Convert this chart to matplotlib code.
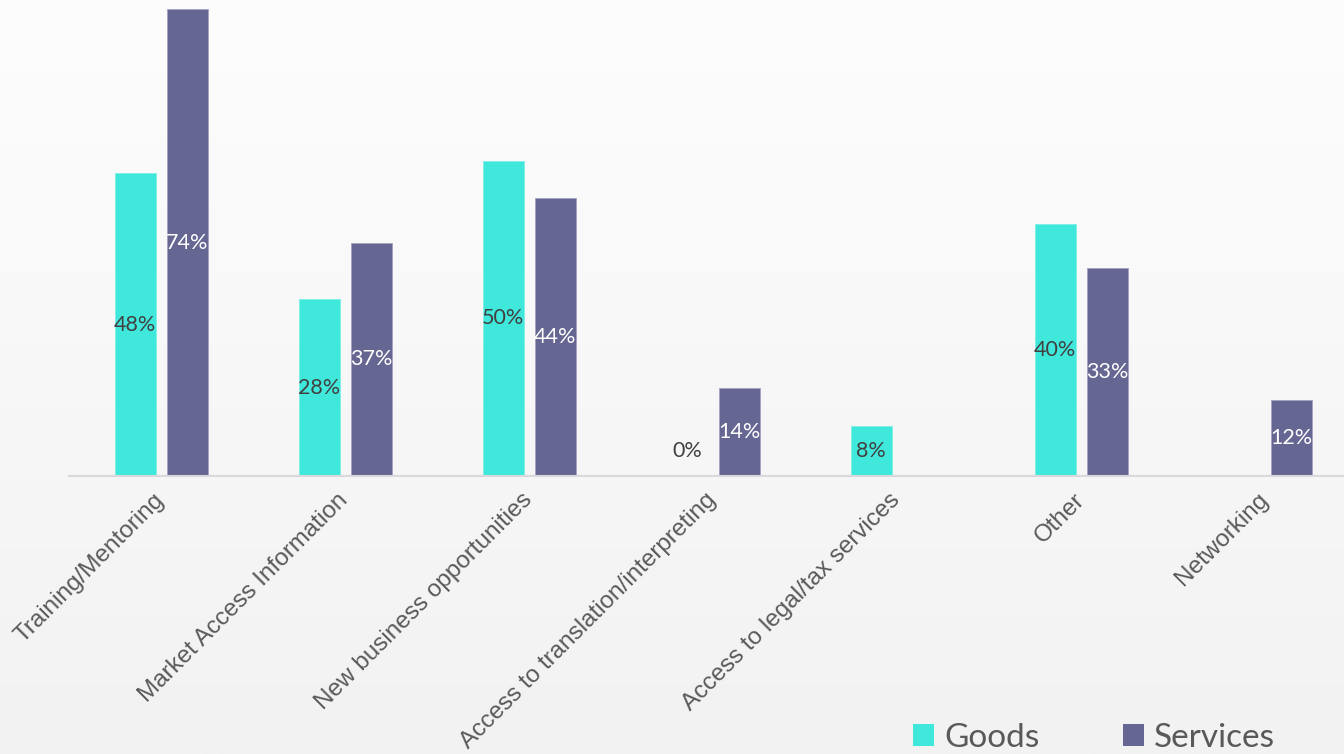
import numpy as np
import matplotlib.pyplot as plt
from matplotlib.patches import Patch

categories = [
    "Training/Mentoring",
    "Market Access Information",
    "New business opportunities",
    "Access to translation/interpreting",
    "Access to legal/tax services",
    "Other",
    "Networking",
]
goods = [48, 28, 50, 0, 8, 40, None]
services = [74, 37, 44, 14, None, 33, 12]

goods_color = "#40E8DC"
services_color = "#666693"

W, H = 1344, 754
fig = plt.figure(figsize=(W / 100, H / 100), dpi=100)

# soft vertical gradient behind everything
bg = fig.add_axes([0, 0, 1, 1], zorder=-10)
grad = np.linspace(253, 242, 256).reshape(-1, 1) / 255.0
bg.imshow(np.dstack([grad, grad, grad]), aspect="auto", extent=[0, 1, 0, 1])
bg.axis("off")

base_y = 476
px_per_pct = 6.31
left_px = 69
cat_px = 184

ax = fig.add_axes([left_px / W, (H - base_y) / H, 1 - left_px / W, base_y / H])
ax.patch.set_alpha(0)
ax.set_ylim(0, base_y / px_per_pct)
ax.set_xlim(-0.5, (W - left_px) / cat_px - 0.5)

x = np.arange(len(categories))
width = 41 / cat_px
offset = 26 / cat_px

g_vals = np.array([np.nan if v is None else v for v in goods], dtype=float)
s_vals = np.array([np.nan if v is None else v for v in services], dtype=float)

ax.bar(x - offset, np.nan_to_num(g_vals), width, color=goods_color,
       edgecolor="#7EEFE6", linewidth=0.6)
ax.bar(x + offset, np.nan_to_num(s_vals), width, color=services_color,
       edgecolor="#A3A3C2", linewidth=0.6)

label_font = ["Lato", "DejaVu Sans"]
for xi, v in zip(x, g_vals):
    if np.isnan(v):
        continue
    y = v / 2 if v > 0 else 4
    ax.text(xi - offset, y, f"{v:.0f}%", ha="center", va="center",
            fontsize=15.5, color="#404040", family=label_font)
for xi, v in zip(x, s_vals):
    if np.isnan(v):
        continue
    ax.text(xi + offset, v / 2, f"{v:.0f}%", ha="center", va="center",
            fontsize=15.5, color="white", family=label_font)

for side in ["top", "right", "left"]:
    ax.spines[side].set_visible(False)
ax.spines["bottom"].set_color("#D9D9D9")
ax.spines["bottom"].set_linewidth(1.5)
ax.set_yticks([])
ax.set_xticks(x)
ax.set_xticklabels(categories, rotation=45, ha="right", va="center",
                   rotation_mode="anchor", fontsize=17.5, color="#595959",
                   family="Liberation Sans")
ax.tick_params(axis="x", length=0, pad=15)

handles = [Patch(facecolor=goods_color, label="Goods"),
           Patch(facecolor=services_color, label="Services")]
fig.legend(handles=handles, loc="lower left", bbox_to_anchor=(913 / W, 1 / H),
           ncol=2, frameon=False, borderpad=0, borderaxespad=0,
           handlelength=0.64, handleheight=0.64, handletextpad=0.3,
           columnspacing=2.5, prop={"family": "Lato", "size": 24},
           labelcolor="#595959")

fig.savefig("out.png", dpi=100)
